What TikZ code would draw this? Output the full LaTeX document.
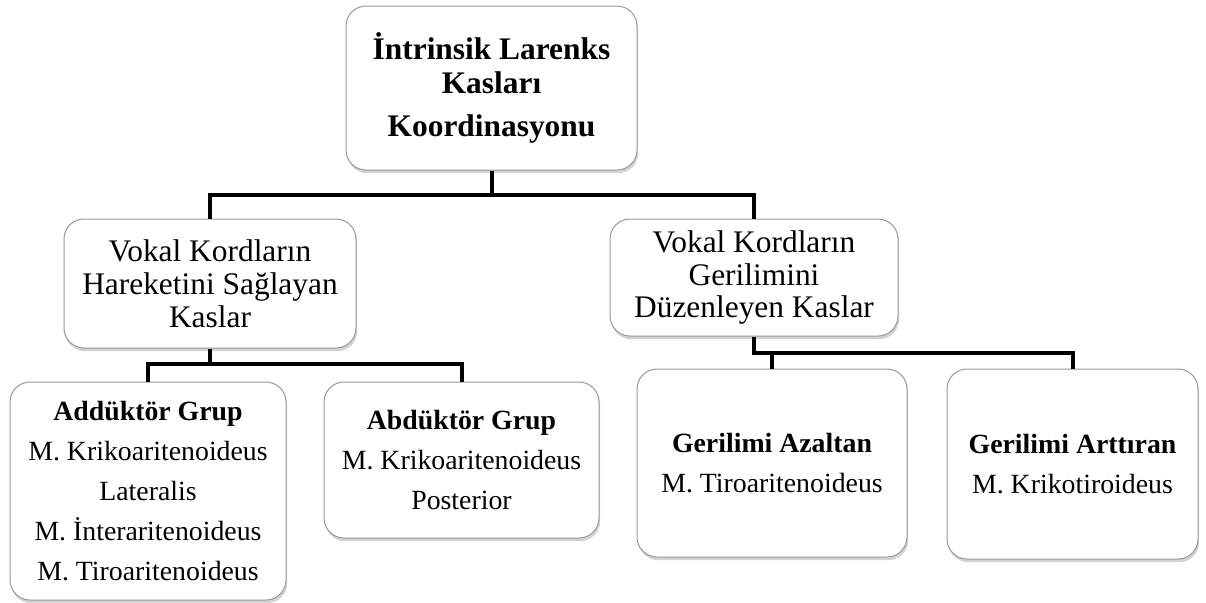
\documentclass[tikz,border=0pt]{standalone}
\usepackage{fontspec}
\setmainfont{Liberation Serif}
\usetikzlibrary{shadows}

\tikzset{
	muscle/.style={draw=gray!80, line width=0.5pt, rounded corners=10pt, fill=white,
		align=center, inner sep=2pt,
		drop shadow={shadow xshift=0.6pt, shadow yshift=-1.6pt, opacity=0.35}},
	big/.style={font=\fontsize{15.7}{16.5}\selectfont},
	small/.style={font=\fontsize{13.9}{20}\selectfont},
	link/.style={line width=2pt, black}
}

\begin{document}
\begin{tikzpicture}[x=0.5pt, y=-0.5pt]
	\useasboundingbox (0,0) rectangle (1206,602);

	% Top level
	\node[muscle, font=\fontsize{15.7}{17}\selectfont\bfseries,
		minimum width=145.5pt, minimum height=82pt] (top) at (491.5,88)
		{İntrinsik Larenks\\Kasları\\[4.5pt]Koordinasyonu};

	% Middle level
	\node[muscle, big, minimum width=146pt, minimum height=64.5pt] (hareket) at (210,283.5)
		{Vokal Kordların\\Hareketini Sağlayan\\Kaslar};
	\node[muscle, font=\fontsize{15.7}{16.2}\selectfont,
		minimum width=144pt, minimum height=58.5pt] (gerilim) at (754,277.5)
		{Vokal Kordların\\Gerilimini\\Düzenleyen Kaslar};

	% Bottom level
	\node[muscle, small, minimum width=138pt, minimum height=109pt] (addukt) at (148,491)
		{\textbf{Addüktör Grup}\\M. Krikoaritenoideus\\Lateralis\\M. İnteraritenoideus\\M. Tiroaritenoideus};
	\node[muscle, small, minimum width=137.5pt, minimum height=78pt] (abdukt) at (461.5,460)
		{\textbf{Abdüktör Grup}\\M. Krikoaritenoideus\\Posterior};
	\node[muscle, small, minimum width=135pt, minimum height=94pt] (azalt) at (772,463)
		{\textbf{Gerilimi Azaltan}\\M. Tiroaritenoideus};
	\node[muscle, small, minimum width=125.5pt, minimum height=95pt] (arttir) at (1072.5,464)
		{\textbf{Gerilimi Arttıran}\\M. Krikotiroideus};

	% Connectors
	\coordinate (j1) at (491.5,195);
	\coordinate (j2) at (210,364);
	\coordinate (j3) at (754,353);
	\draw[link] (top.south) -- (j1);
	\draw[link] (hareket.north) |- (j1) -| (gerilim.north);
	\draw[link] (hareket.south) -- (j2);
	\draw[link] (addukt.north) |- (j2) -| (abdukt.north);
	\draw[link] (gerilim.south) -- (j3) -| (arttir.north);
	\draw[link] (azalt.north) -- (azalt.north |- j3);
\end{tikzpicture}
\end{document}
